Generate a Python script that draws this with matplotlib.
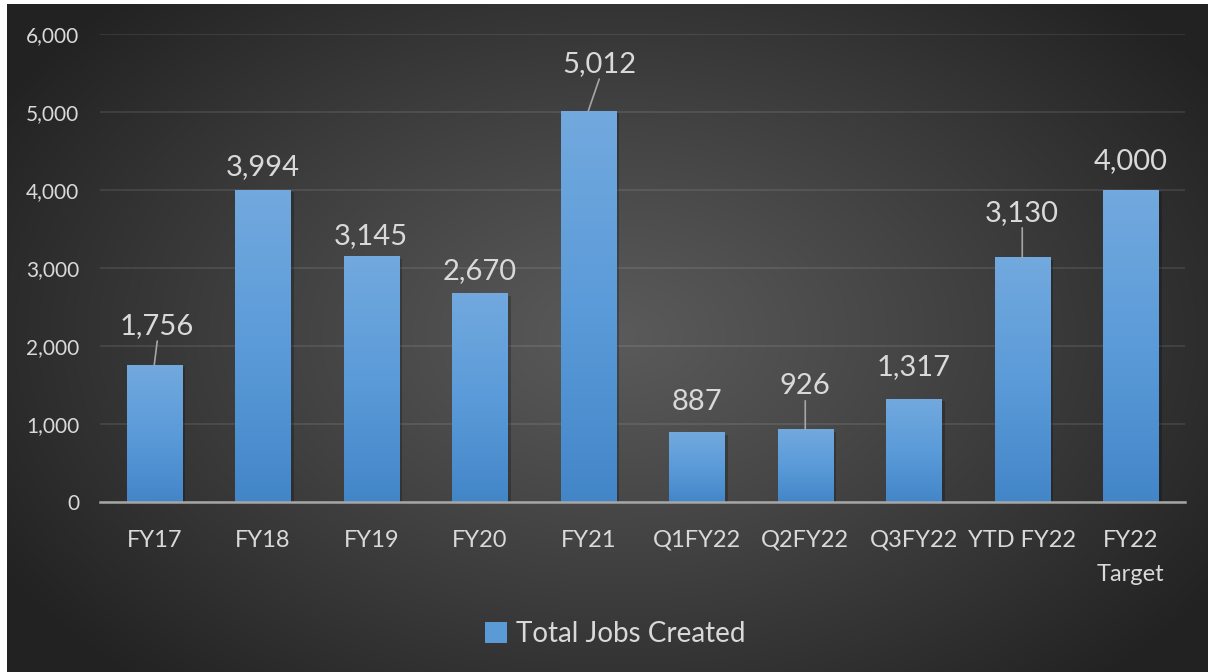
import numpy as np
import matplotlib
matplotlib.use('Agg')
import matplotlib.pyplot as plt
from matplotlib.colors import LinearSegmentedColormap
from matplotlib.patches import Patch

plt.rcParams['font.family'] = ['Lato', 'DejaVu Sans']

categories = ['FY17', 'FY18', 'FY19', 'FY20', 'FY21', 'Q1FY22', 'Q2FY22',
              'Q3FY22', 'YTD FY22', 'FY22\nTarget']
jobs = [1756, 3994, 3145, 2670, 5012, 887, 926, 1317, 3130, 4000]
# label offsets (pixels) from the top of each bar, and which get a leader line
label_dx = [3, 0, 0, 0, 11, 0, 0, 0, 0, 0]
label_dy = [39, 23, 21, 23, 47, 31, 44, 32, 45, 29]
leader = [True, False, False, False, True, False, True, False, True, False]
yticks = [0, 1000, 2000, 3000, 4000, 5000, 6000]

W, H = 1208, 672
fig = plt.figure(figsize=(W / 100, H / 100), dpi=100, facecolor='white')

# dark radial background
bg = fig.add_axes([7 / W, 0, 1 - 7 / W, (H - 4) / H], zorder=-10)
yy, xx = np.mgrid[0:H - 4, 0:W - 7]
r = np.sqrt(((xx - 610) / 720.0) ** 2 + ((yy - 330) / 470.0) ** 2)
shade = 0x5a - (0x5a - 0x22) * np.clip(r, 0, 1) ** 1.1
img = np.dstack([shade, shade, shade]) / 255.0
bg.imshow(img, aspect='auto', interpolation='bilinear')
bg.axis('off')

ax = fig.add_axes([100 / W, (H - 502) / H, 1085 / W, 468 / H])
ax.set_facecolor('none')
x = np.arange(len(categories))
bars = ax.bar(x, jobs, width=0.51, color='none', zorder=3,
              label='Total Jobs Created')

cmap = LinearSegmentedColormap.from_list('barblue', ['#4386c8', '#5b9bd9', '#72a9de'])
grad = np.linspace(0, 1, 256).reshape(-1, 1)
for b in bars:
    x0, w, h = b.get_x(), b.get_width(), b.get_height()
    # soft shadow behind the bar
    ax.bar(x0 + w / 2 + 0.03, h, width=w, bottom=-25, color='black',
           alpha=0.22, zorder=2, linewidth=0)
    ax.imshow(grad, cmap=cmap, origin='lower', aspect='auto',
              extent=[x0, x0 + w, 0, h], zorder=3)

for i, v in enumerate(jobs):
    ax.annotate(f'{v:,}', xy=(x[i], v), xytext=(label_dx[i], label_dy[i]),
                textcoords='offset pixels', ha='center', va='center',
                fontsize=21, color='#d9d9d9', zorder=5)
    if leader[i]:
        ax.annotate('', xy=(x[i], v), xytext=(label_dx[i], label_dy[i] - 15),
                    textcoords='offset pixels',
                    arrowprops=dict(arrowstyle='-', color='#a6a6a6', lw=1.2,
                                    shrinkA=0, shrinkB=0), zorder=5)

ax.set_xlim(-0.5, len(categories) - 0.5)
ax.set_ylim(0, 6000)
ax.set_yticks(yticks)
ax.set_yticklabels([f'{t:,}' for t in yticks])
ax.set_xticks(x)
ax.set_xticklabels(categories, linespacing=1.8)
ax.tick_params(axis='both', length=0, colors='#d9d9d9', labelsize=15)
ax.tick_params(axis='x', pad=20, labelsize=17)
ax.tick_params(axis='y', pad=15)
ax.grid(axis='y', color='white', alpha=0.09, lw=1.5, zorder=0)
ax.set_axisbelow(True)
for s in ['top', 'right', 'left']:
    ax.spines[s].set_visible(False)
ax.spines['bottom'].set_color('#a6a6a6')
ax.spines['bottom'].set_linewidth(1.8)
ax.spines['bottom'].set_zorder(4)

handle = Patch(facecolor='#5b9bd5', edgecolor='none')
leg = fig.legend([handle], ['Total Jobs Created'], loc='center',
                 bbox_to_anchor=(615 / W, (H - 634) / H), frameon=False,
                 fontsize=20, handlelength=0.8, handleheight=0.8,
                 handletextpad=0.3, labelcolor='#d9d9d9')

fig.savefig('out.png', dpi=100)
